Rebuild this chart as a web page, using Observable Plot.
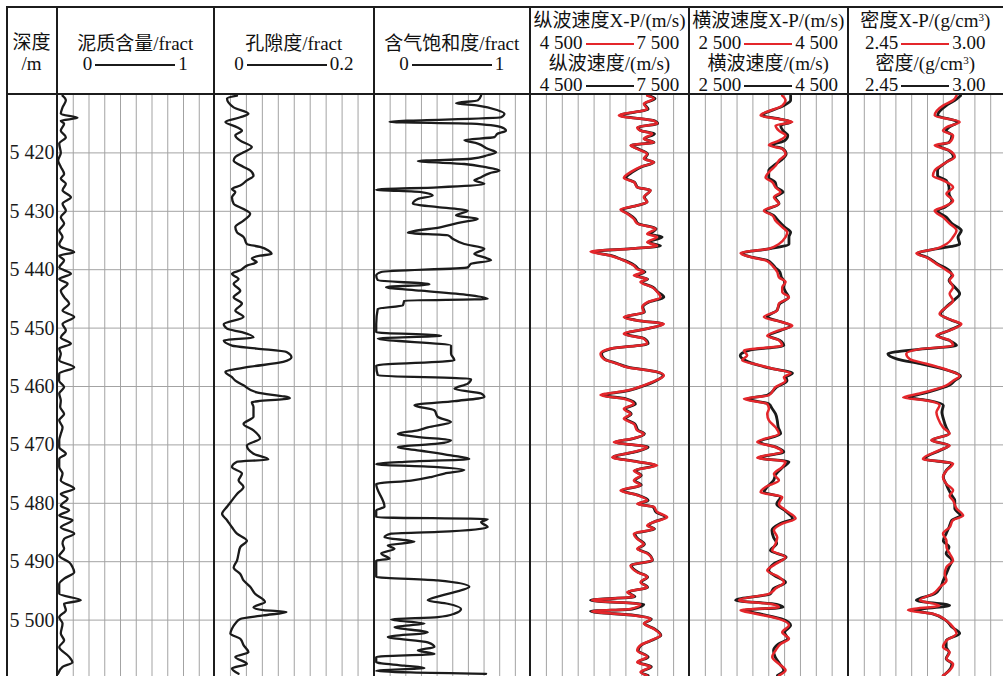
<!DOCTYPE html>
<html>
<head>
<meta charset="utf-8">
<script src="https://cdn.jsdelivr.net/npm/d3@7"></script>
<script src="https://cdn.jsdelivr.net/npm/@observablehq/plot@0.6"></script>
<style>
  body { margin: 0; background: #fff; }
  #log { position: relative; width: 1003px; height: 676px; overflow: hidden;
         font-family: "Liberation Serif", "Noto Sans CJK SC", serif; color: #111; }
  .cell { position: absolute; top: 7px; height: 87px; }
  .row { position: absolute; left: -4px; right: -4px; height: 21px; line-height: 21px;
         text-align: center; white-space: nowrap; font-size: 19px; }
  .bar { display: inline-block; height: 2px; vertical-align: middle; margin: 0 3px; position: relative; top: -1px; }
  .hline, .vline { position: absolute; background: #1c1c1c; }
  .track { position: absolute; top: 94px; }
</style>
</head>
<body>
<div id="log"></div>
<script>
// ---- depth grid and labels ----
const depthDomain = [5410, 5510];
const depthTicks = [5420, 5430, 5440, 5450, 5460, 5470, 5480, 5490, 5500];

// ---- shale content (fract) ----
const mudDepth = [
  5410.2,5411.0,5412.2,5413.3,5414.0,5414.5,5415.0,5416.2,5417.3,5418.4,
  5420.0,5421.3,5422.4,5423.6,5424.4,5425.3,5426.4,5427.6,5428.7,5429.9,
  5431.0,5432.1,5433.3,5434.4,5435.6,5436.1,5437.0,5437.6,5438.4,5439.6,
  5440.7,5441.6,5442.4,5443.6,5444.7,5445.8,5447.0,5448.1,5449.3,5450.4,
  5451.6,5452.7,5453.5,5454.4,5455.5,5456.7,5457.8,5459.0,5460.1,5461.2,
  5462.4,5463.5,5464.7,5465.8,5467.0,5468.1,5469.2,5470.4,5471.5,5472.4,
  5473.8,5474.9,5476.1,5477.5,5478.4,5479.2,5480.4,5481.2,5482.1,5482.9,
  5484.1,5485.2,5486.1,5486.9,5487.8,5489.0,5490.1,5490.9,5491.8,5492.9,
  5493.8,5495.5,5496.6,5497.2,5498.3,5499.5,5500.6,5502.3,5503.5,5504.6,
  5506.3,5507.2,5508.0,5509.2];
const mudValue = [
  0.032,0.053,0.032,0.021,0.127,0.021,0.042,0.021,0.053,0.011,
  0.021,0.004,0.021,0.042,0.021,0.053,0.032,0.085,0.032,0.053,
  0.021,0.042,0.011,0.032,0.011,0.021,0.106,0.011,0.042,0.011,
  0.085,0.011,0.064,0.021,0.042,0.074,0.032,0.106,0.032,0.053,
  0.021,0.085,0.011,0.021,0.011,0.106,0.011,0.010,0.042,0.011,
  0.021,0.017,0.042,0.011,0.032,0.021,0.011,0.011,0.053,0.011,
  0.011,0.032,0.021,0.106,0.021,0.064,0.021,0.074,0.011,0.095,
  0.021,0.106,0.042,0.032,0.042,0.011,0.074,0.095,0.106,0.042,
  0.011,0.011,0.148,0.042,0.053,0.011,0.032,0.021,0.042,0.011,
  0.074,0.095,0.032,0.003];

// ---- porosity (fract) ----
const porDepth = [
  5410.2,5410.7,5412.2,5413.3,5413.9,5414.7,5415.6,5416.2,5417.0,5417.9,
  5419.0,5419.9,5420.7,5421.3,5422.4,5423.0,5423.9,5424.7,5425.6,5426.2,
  5426.7,5427.6,5428.7,5429.6,5430.4,5431.6,5432.7,5433.6,5434.4,5435.6,
  5436.1,5436.7,5437.3,5437.6,5438.1,5438.7,5439.3,5440.1,5440.7,5441.6,
  5442.4,5443.6,5444.7,5445.8,5447.0,5448.1,5449.3,5450.1,5450.7,5451.6,
  5452.1,5453.0,5453.5,5454.1,5455.0,5455.8,5456.7,5457.5,5458.4,5459.0,
  5459.8,5461.0,5462.0,5462.7,5463.5,5465.2,5466.4,5467.5,5468.9,5470.1,
  5471.5,5472.5,5472.9,5473.8,5474.9,5476.1,5477.2,5478.4,5479.5,5480.6,
  5481.8,5482.9,5484.1,5485.2,5486.4,5487.5,5488.6,5489.8,5491.0,5492.1,
  5493.2,5494.3,5495.5,5496.9,5497.8,5498.3,5498.6,5499.2,5499.8,5500.6,
  5501.5,5502.3,5503.2,5504.3,5505.5,5506.3,5507.5,5508.3,5509.2];
const porValue = [
  0.0282,0.0157,0.0240,0.0426,0.0323,0.0137,0.0282,0.0344,0.0261,0.0323,
  0.0468,0.0364,0.0261,0.0240,0.0364,0.0447,0.0489,0.0406,0.0323,0.0219,
  0.0261,0.0219,0.0240,0.0364,0.0447,0.0364,0.0261,0.0282,0.0364,0.0406,
  0.0571,0.0675,0.0716,0.0571,0.0468,0.0530,0.0406,0.0323,0.0219,0.0302,
  0.0240,0.0323,0.0240,0.0344,0.0261,0.0364,0.0116,0.0157,0.0344,0.0489,
  0.0116,0.0219,0.0530,0.0903,0.0965,0.0861,0.0406,0.0137,0.0219,0.0261,
  0.0364,0.0530,0.0944,0.0468,0.0489,0.0489,0.0364,0.0489,0.0571,0.0406,
  0.0489,0.0675,0.0282,0.0219,0.0344,0.0302,0.0364,0.0282,0.0219,0.0157,
  0.0095,0.0157,0.0219,0.0282,0.0406,0.0323,0.0302,0.0282,0.0240,0.0323,
  0.0364,0.0447,0.0509,0.0633,0.0489,0.0613,0.0903,0.0613,0.0323,0.0261,
  0.0219,0.0199,0.0323,0.0364,0.0426,0.0261,0.0406,0.0219,0.0302];

// ---- gas saturation (fract) ----
const satDepth = [
  5410.2,5411.0,5411.5,5411.9,5412.7,5413.3,5413.9,5414.7,5415.0,5415.6,
  5416.2,5416.7,5417.3,5417.8,5418.4,5419.3,5419.9,5420.4,5421.0,5421.4,
  5421.9,5422.4,5423.0,5423.5,5424.3,5424.7,5425.3,5425.9,5426.3,5426.7,
  5427.3,5427.9,5428.7,5429.3,5429.9,5430.7,5431.3,5431.9,5432.7,5433.7,
  5434.1,5434.7,5435.6,5436.4,5437.3,5437.9,5438.4,5439.0,5439.6,5440.4,
  5441.0,5441.8,5442.5,5443.0,5443.6,5444.4,5445.0,5445.3,5446.1,5446.7,
  5449.3,5450.7,5451.3,5451.8,5453.0,5454.4,5455.5,5456.4,5458.1,5458.7,
  5459.5,5460.4,5461.2,5461.8,5462.5,5463.2,5464.1,5465.2,5466.1,5467.0,
  5467.5,5468.1,5468.7,5469.2,5469.8,5470.4,5471.0,5471.8,5472.4,5472.9,
  5473.3,5473.8,5474.3,5474.9,5475.5,5476.1,5476.7,5480.6,5481.2,5482.4,
  5482.7,5483.2,5484.1,5484.9,5485.2,5485.8,5486.6,5487.2,5487.8,5488.6,
  5489.5,5489.8,5492.6,5493.2,5494.3,5495.2,5495.8,5496.6,5497.2,5498.1,
  5498.9,5499.5,5499.9,5500.6,5501.2,5502.1,5502.9,5503.8,5504.6,5505.2,
  5505.8,5506.3,5507.2,5507.8,5508.2,5508.7,5509.2];
const satValue = [
  0.681,0.660,0.521,0.660,0.787,0.830,0.809,0.096,0.617,0.809,
  0.840,0.787,0.766,0.574,0.660,0.723,0.777,0.723,0.617,0.277,
  0.574,0.702,0.798,0.734,0.670,0.638,0.702,0.404,0.011,0.298,
  0.372,0.277,0.245,0.404,0.596,0.521,0.660,0.553,0.426,0.213,
  0.468,0.500,0.574,0.702,0.638,0.702,0.745,0.617,0.596,0.043,
  0.011,0.021,0.351,0.074,0.298,0.617,0.723,0.191,0.181,0.021,
  0.011,0.011,0.426,0.021,0.489,0.489,0.511,0.011,0.021,0.617,
  0.596,0.511,0.681,0.702,0.511,0.255,0.383,0.404,0.489,0.340,
  0.277,0.149,0.298,0.489,0.404,0.149,0.298,0.489,0.606,0.191,
  0.011,0.404,0.574,0.447,0.362,0.234,0.011,0.064,0.011,0.011,
  0.723,0.681,0.723,0.404,0.106,0.064,0.255,0.085,0.128,0.043,
  0.096,0.011,0.011,0.404,0.606,0.511,0.426,0.340,0.468,0.553,
  0.511,0.404,0.106,0.319,0.128,0.340,0.085,0.340,0.383,0.277,
  0.383,0.011,0.011,0.191,0.319,0.011,0.713];

// ---- P-wave velocity (m/s): X-P prediction (red) and log (black) ----
const vpDepth = [
  5410.2,5410.7,5411.6,5412.5,5413.6,5414.5,5415.0,5415.6,5416.2,5416.7,
  5417.6,5418.2,5418.7,5419.3,5420.2,5421.0,5421.6,5422.4,5423.3,5424.3,
  5425.0,5425.9,5426.4,5427.6,5428.4,5429.0,5429.7,5430.4,5431.3,5432.1,
  5433.0,5433.9,5434.4,5435.3,5435.9,5436.4,5436.9,5437.6,5438.2,5438.7,
  5439.3,5439.9,5440.4,5441.0,5441.6,5442.1,5443.0,5443.8,5444.7,5445.6,
  5446.4,5447.3,5448.1,5448.7,5449.3,5450.1,5451.0,5451.8,5452.7,5453.5,
  5454.4,5455.3,5456.1,5456.7,5457.5,5458.1,5459.0,5459.8,5460.7,5461.5,
  5462.1,5463.0,5463.8,5464.7,5465.5,5466.4,5467.5,5468.1,5469.0,5469.5,
  5470.4,5471.2,5472.1,5472.9,5473.5,5474.4,5475.2,5476.1,5476.9,5477.8,
  5478.6,5479.5,5480.1,5480.6,5481.5,5482.4,5483.2,5483.8,5484.4,5485.2,
  5486.1,5487.0,5487.8,5488.6,5489.8,5490.6,5491.8,5492.6,5493.5,5494.4,
  5495.2,5496.0,5496.6,5497.3,5498.1,5498.5,5499.2,5499.8,5500.6,5501.5,
  5502.6,5503.5,5504.3,5505.2,5506.3,5507.2,5508.0,5508.9,5509.5];
const vpXP = [
  6701,6827,6638,6701,6167,6827,6890,6513,6575,6796,
  6638,6827,6387,6513,6701,6638,6827,6575,6387,6261,
  6450,6513,6764,6638,6701,6513,6198,6324,6450,6513,
  6859,6701,6890,6701,6890,6387,5632,6009,6198,6324,
  6450,6513,6638,6450,6701,6575,6796,6890,6953,6701,
  6607,6638,6261,6513,7016,6701,6261,6638,6701,6009,
  5821,5884,6135,6324,6890,7016,6859,6638,6324,5821,
  6261,6450,6261,6387,6261,6450,6513,6638,6387,6072,
  6701,6450,6041,6513,6890,6450,6575,6450,6575,6198,
  6513,6701,6513,6827,6890,7079,6827,6701,6827,6450,
  6513,6638,6513,6701,6796,6387,6513,6701,6575,6701,
  6324,6450,5660,6575,6387,5660,6450,6764,6638,6827,
  6953,6764,6575,6513,6701,6513,6764,6575,6701];
const vpLog = [
  6720,6850,6650,6720,6190,6840,6900,6530,6590,6840,
  6650,6830,6400,6530,6710,6650,6830,6590,6420,6300,
  6460,6520,6760,6650,6700,6520,6220,6340,6470,6530,
  6870,6760,6984,6720,6953,6400,5680,6030,6210,6350,
  6470,6540,6660,6480,6710,6600,6810,6900,7016,6720,
  6620,6650,6280,6530,7000,6710,6280,6650,6720,6030,
  5840,5900,6150,6340,6880,7000,6870,6660,6350,5884,
  6300,6480,6280,6400,6290,6470,6530,6650,6400,6100,
  6720,6470,6060,6530,6860,6470,6590,6470,6590,6220,
  6530,6720,6530,6810,6870,7050,6830,6720,6840,6470,
  6530,6650,6530,6720,6800,6400,6530,6710,6590,6710,
  6340,6470,5632,6638,6420,5632,6470,6780,6650,6840,
  6960,6780,6590,6530,6720,6530,6780,6590,6720];

// ---- S-wave velocity (m/s) ----
const vsDepth = [
  5410.2,5411.0,5411.9,5413.6,5414.2,5414.7,5415.3,5416.2,5417.0,5417.9,
  5418.7,5419.3,5420.2,5421.3,5422.2,5423.0,5424.2,5425.0,5425.9,5426.7,
  5427.6,5428.7,5429.9,5430.7,5431.6,5432.7,5433.6,5434.4,5435.6,5436.4,
  5437.2,5437.9,5438.4,5439.0,5439.6,5440.4,5441.3,5442.1,5443.0,5443.8,
  5444.7,5445.8,5447.0,5448.1,5449.0,5449.6,5450.4,5451.3,5452.1,5453.0,
  5453.8,5454.7,5455.5,5456.4,5457.0,5457.7,5458.4,5459.0,5460.1,5461.5,
  5462.1,5463.0,5463.8,5464.7,5465.8,5467.0,5468.1,5469.5,5470.4,5471.2,
  5472.2,5472.9,5473.8,5475.0,5476.1,5477.2,5478.1,5478.9,5480.1,5481.2,
  5482.6,5483.5,5484.6,5485.8,5486.9,5488.1,5489.2,5490.4,5491.5,5492.6,
  5493.5,5494.6,5495.5,5496.6,5497.3,5497.8,5498.3,5498.9,5499.8,5500.9,
  5502.1,5503.2,5504.1,5505.2,5506.3,5507.5,5508.6,5509.5];
const vsXP = [
  3670,3712,3670,3397,3628,3797,3586,3628,3712,3628,
  3502,3670,3712,3628,3586,3523,3460,3544,3586,3649,
  3565,3628,3439,3544,3586,3670,3734,3712,3628,3502,
  3144,3292,3460,3523,3565,3607,3628,3712,3670,3670,
  3755,3628,3607,3439,3670,3797,3628,3481,3628,3670,
  3186,3228,3165,3397,3565,3776,3691,3712,3586,3502,
  3186,3481,3502,3481,3502,3586,3628,3355,3586,3670,
  3355,3712,3670,3565,3628,3460,3397,3670,3628,3712,
  3839,3670,3565,3607,3586,3544,3712,3586,3481,3628,
  3691,3586,3502,3123,3544,3628,3144,3334,3628,3755,
  3670,3755,3649,3586,3544,3628,3712,3628];
const vsLog = [
  3776,3776,3690,3420,3640,3780,3650,3680,3740,3700,
  3540,3680,3720,3650,3560,3500,3500,3580,3600,3680,
  3580,3630,3460,3560,3620,3700,3776,3755,3755,3520,
  3160,3300,3480,3540,3580,3640,3660,3700,3690,3712,
  3750,3640,3600,3480,3680,3780,3650,3500,3640,3690,
  3250,3140,3200,3380,3560,3800,3720,3730,3600,3480,
  3230,3500,3544,3586,3607,3620,3650,3380,3600,3690,
  3380,3755,3680,3590,3560,3480,3440,3650,3600,3700,
  3800,3640,3540,3560,3600,3520,3720,3560,3500,3600,
  3712,3560,3520,3081,3600,3680,3200,3380,3660,3776,
  3700,3740,3620,3560,3580,3640,3690,3610];

// ---- density (g/cm3) ----
const rhoDepth = [
  5410.2,5411.0,5411.9,5413.6,5414.7,5415.6,5416.2,5417.0,5418.2,5418.7,
  5419.6,5420.7,5421.6,5423.0,5423.9,5424.7,5425.9,5427.0,5428.2,5429.3,
  5429.9,5431.0,5432.1,5433.3,5434.4,5435.6,5436.4,5437.2,5437.9,5439.0,
  5440.1,5441.0,5441.8,5443.0,5444.1,5445.3,5446.4,5447.6,5448.7,5449.3,
  5450.4,5451.3,5452.1,5453.0,5453.6,5454.4,5455.3,5456.1,5457.3,5458.2,
  5459.0,5459.8,5461.2,5461.9,5462.4,5463.2,5464.4,5465.5,5467.0,5468.1,
  5469.2,5470.1,5470.9,5472.4,5473.2,5474.4,5475.5,5476.7,5477.8,5478.7,
  5479.5,5480.9,5482.1,5482.9,5484.1,5485.2,5486.4,5487.5,5488.6,5489.8,
  5490.9,5492.1,5493.2,5494.4,5495.5,5496.6,5497.5,5498.3,5498.9,5500.1,
  5501.2,5502.3,5503.5,5504.6,5505.5,5506.6,5507.5,5508.6,5509.5];
const rhoXP = [
  2.826,2.814,2.779,2.750,2.837,2.791,2.779,2.814,2.802,2.750,
  2.802,2.820,2.791,2.750,2.744,2.779,2.814,2.791,2.814,2.779,
  2.750,2.779,2.802,2.826,2.814,2.791,2.756,2.686,2.721,2.756,
  2.791,2.814,2.802,2.814,2.802,2.814,2.791,2.767,2.814,2.843,
  2.802,2.756,2.802,2.814,2.698,2.651,2.663,2.721,2.802,2.837,
  2.814,2.791,2.698,2.640,2.721,2.767,2.756,2.762,2.779,2.802,
  2.738,2.802,2.767,2.709,2.814,2.791,2.779,2.791,2.814,2.802,
  2.814,2.826,2.849,2.814,2.802,2.779,2.791,2.791,2.802,2.814,
  2.791,2.785,2.791,2.767,2.744,2.698,2.767,2.657,2.744,2.791,
  2.814,2.826,2.791,2.779,2.802,2.791,2.814,2.802,2.779];
const rhoLog = [
  2.840,2.820,2.790,2.760,2.830,2.800,2.790,2.810,2.800,2.760,
  2.800,2.815,2.790,2.760,2.760,2.790,2.800,2.800,2.810,2.785,
  2.760,2.790,2.810,2.843,2.831,2.837,2.760,2.690,2.725,2.760,
  2.800,2.810,2.800,2.820,2.837,2.815,2.790,2.770,2.810,2.840,
  2.800,2.760,2.800,2.826,2.700,2.587,2.620,2.700,2.800,2.840,
  2.820,2.800,2.710,2.660,2.730,2.780,2.775,2.780,2.790,2.800,
  2.740,2.800,2.770,2.715,2.810,2.790,2.780,2.790,2.800,2.810,
  2.820,2.820,2.840,2.810,2.800,2.790,2.780,2.800,2.790,2.810,
  2.800,2.790,2.780,2.770,2.750,2.686,2.802,2.680,2.740,2.790,
  2.810,2.837,2.790,2.790,2.800,2.790,2.810,2.800,2.780];

// ---- header text ----
const depthTitle = ["深度", "/m"];
const singleTitles = ["泥质含量/fract", "孔隙度/fract", "含气饱和度/fract"];
const singleScales = [["0", "1"], ["0", "0.2"], ["0", "1"]];
const pairTitles = [
  ["纵波速度X-P/(m/s)", "纵波速度/(m/s)"],
  ["横波速度X-P/(m/s)", "横波速度/(m/s)"],
  ["密度X-P/(g/cm<sup>3</sup>)", "密度/(g/cm<sup>3</sup>)"]];
const pairScales = [["4 500", "7 500"], ["2 500", "4 500"], ["2.45", "3.00"]];

// ---- layout ----
const RED = "#e4262b", INK = "#1b1b1b", GRID = "#a3a3a3";
const plotHeight = 584;
const edges = [6.5, 56.5, 214, 373.5, 530, 689, 847.5, 1005.5];
const root = document.getElementById("log");

const rowsOf = (depth, value) =>
  depth.slice(0, Math.min(depth.length, value.length)).map((d, i) => ({depth: d, value: value[i]}));

const tracks = [
  {domain: [0, 1], curves: [[rowsOf(mudDepth, mudValue), INK, 2.3]]},
  {domain: [0, 0.2], curves: [[rowsOf(porDepth, porValue), INK, 2.3]]},
  {domain: [0, 1], curves: [[rowsOf(satDepth, satValue), INK, 2.3]]},
  {domain: [4500, 7500], curves: [[rowsOf(vpDepth, vpLog), INK, 2.8], [rowsOf(vpDepth, vpXP), RED, 2.5]]},
  {domain: [2500, 4500], curves: [[rowsOf(vsDepth, vsLog), INK, 2.8], [rowsOf(vsDepth, vsXP), RED, 2.5]]},
  {domain: [2.45, 3.00], curves: [[rowsOf(rhoDepth, rhoLog), INK, 2.8], [rowsOf(rhoDepth, rhoXP), RED, 2.5]]}
];

function place(el, left, top) {
  el.classList.add("track");
  el.style.left = left + "px";
  el.style.top = top + "px";
  root.appendChild(el);
}

// depth column labels
const depthFormat = d => d3.format(",")(d).replace(",", " ");
const depthWidth = edges[1] - edges[0];
place(Plot.plot({
  width: depthWidth, height: plotHeight, margin: 0,
  y: {domain: depthDomain, range: [0, plotHeight], axis: null},
  style: {fontFamily: '"Liberation Serif", serif', background: "transparent", overflow: "visible"},
  marks: [
    Plot.text(depthTicks, {y: d => d, text: depthFormat, frameAnchor: "right",
      textAnchor: "end", dx: -3, fontSize: 20, fill: INK})
  ]
}), edges[0], 94);

// log tracks
tracks.forEach((t, k) => {
  const left = edges[k + 1], width = edges[k + 2] - edges[k + 1];
  const [lo, hi] = t.domain;
  const xGrid = d3.range(1, 10).map(i => lo + (hi - lo) * i / 10);
  const marks = [
    Plot.ruleX(xGrid, {stroke: GRID, strokeWidth: 1}),
    Plot.ruleY(depthTicks, {stroke: GRID, strokeWidth: 1})
  ];
  t.curves.forEach(([rows, color, sw]) => {
    marks.push(Plot.line(rows, {x: "value", y: "depth", stroke: color, strokeWidth: sw,
      curve: "monotone-y", strokeLinejoin: "round"}));
  });
  place(Plot.plot({
    width, height: plotHeight, margin: 0,
    x: {domain: t.domain, range: [0, width], axis: null},
    y: {domain: depthDomain, range: [0, plotHeight], axis: null},
    style: {background: "transparent"},
    marks
  }), left, 94);
});

// header cells
function cell(left, right) {
  const c = document.createElement("div");
  c.className = "cell";
  c.style.left = left + "px";
  c.style.width = (right - left) + "px";
  root.appendChild(c);
  return c;
}
function row(c, top, html) {
  const r = document.createElement("div");
  r.className = "row";
  r.style.top = top + "px";
  r.innerHTML = html;
  c.appendChild(r);
}
const scaleRow = (a, b, len, color) =>
  `<span>${a}</span><span class="bar" style="width:${len}px;background:${color}"></span><span>${b}</span>`;

const dc = cell(edges[0], edges[1]);
row(dc, 25, depthTitle[0]);
row(dc, 46, depthTitle[1]);

singleTitles.forEach((title, i) => {
  const c = cell(edges[i + 1], edges[i + 2]);
  row(c, 26, title);
  row(c, 46, scaleRow(singleScales[i][0], singleScales[i][1], 80, INK));
});

pairTitles.forEach((titles, i) => {
  const right = i === 2 ? 1003 : edges[i + 5];
  const c = cell(edges[i + 4], right);
  row(c, 3, titles[0]);
  row(c, 25, scaleRow(pairScales[i][0], pairScales[i][1], 48, RED));
  row(c, 46, titles[1]);
  row(c, 67, scaleRow(pairScales[i][0], pairScales[i][1], 48, INK));
});
document.querySelectorAll("sup").forEach(s => { s.style.fontSize = "11px"; s.style.verticalAlign = "6px"; s.style.lineHeight = "0"; });

// frame lines
function line(cls, left, top, w, h) {
  const l = document.createElement("div");
  l.className = cls;
  Object.assign(l.style, {left: left + "px", top: top + "px", width: w + "px", height: h + "px"});
  root.appendChild(l);
}
line("hline", 6, 6, 997, 2);
line("hline", 6, 93, 997, 2);
edges.slice(0, 7).forEach(x => line("vline", Math.round(x - 1), 6, 2, 676));
</script>
</body>
</html>
